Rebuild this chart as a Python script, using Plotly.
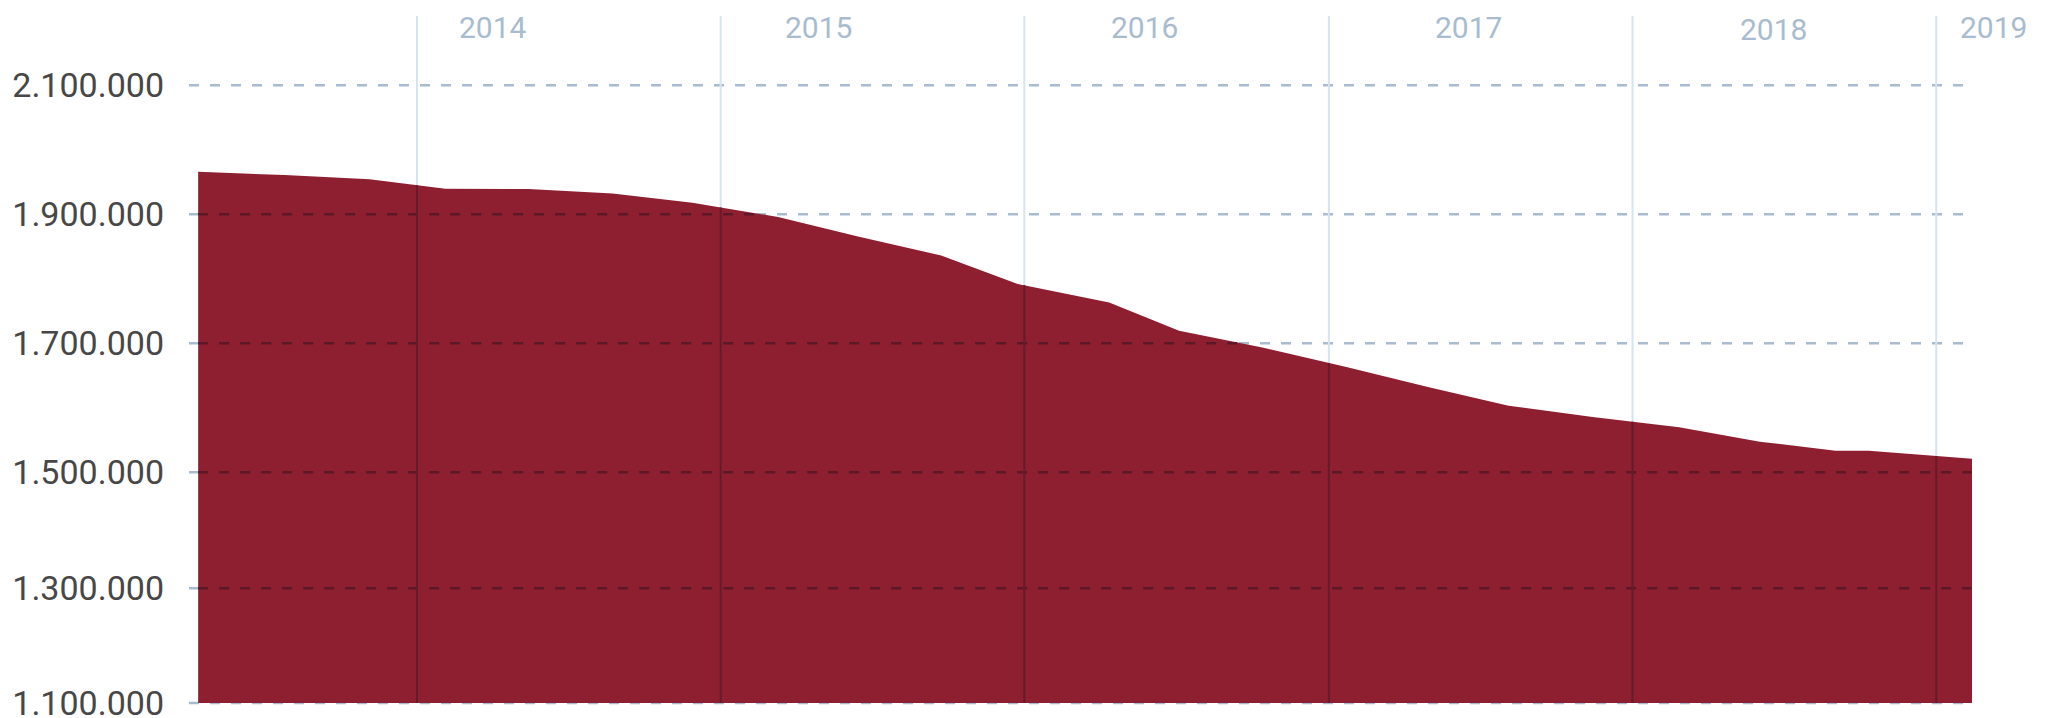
import numpy as np
import pandas as pd
import plotly.graph_objects as go

# ---- data ----
dates = ["2013-04-13", "2013-07-26", "2013-11-05", "2014-02-04", "2014-05-15",
         "2014-08-24", "2014-11-28", "2015-03-11", "2015-06-15", "2015-09-23",
         "2015-12-24", "2016-04-12", "2016-07-05", "2016-10-13", "2017-01-22",
         "2017-04-30", "2017-08-05", "2017-11-14", "2018-02-26", "2018-06-03",
         "2018-09-02", "2018-10-12", "2019-02-13"]
values = [1966000, 1960800, 1954300, 1939800, 1939200,
          1932400, 1918000, 1895800, 1865700, 1836100,
          1791900, 1763300, 1719500, 1693500, 1663300,
          1632200, 1603300, 1585900, 1569800, 1547400,
          1533500, 1533500, 1520900]

# y axis tick labels and where the reference draws them on its scale
y_tick_text = ["1.100.000", "1.300.000", "1.500.000", "1.700.000", "1.900.000", "2.100.000"]
y_tick_vals = [1142300, 1320150, 1500000, 1700000, 1900000, 2100000]

# year boundaries and year labels
year_lines = ["2014-01-01", "2015-01-01", "2016-01-01", "2017-01-01", "2018-01-01", "2019-01-01"]
year_labels = ["2014", "2015", "2016", "2017", "2018", "2019"]
year_label_at = ["2014-04-02", "2015-04-28", "2016-05-25", "2017-06-18", "2018-06-19", "2019-03-11"]

# ---- styles ----
FILL = "#8e1f31"
GRID_LIGHT = "#a9bccf"
GRID_DARK = "#5c1827"
VLINE_LIGHT = "#d4e4f0"
VLINE_DARK = "#661b2b"
DASH = "10px,11px"

x_range = ["2013-04-02", dates[-1]]
y_range = [1134560, 2207440]

t = pd.to_datetime(dates)
tn = np.array([ts.value for ts in t], dtype=float)
vals = np.array(values, dtype=float)
xr0, xr1 = pd.Timestamp(x_range[0]).value, pd.Timestamp(x_range[1]).value


def cross_time(v):
    if vals.min() >= v:
        return t[-1]
    for i in range(len(vals) - 1):
        if vals[i] >= v > vals[i + 1]:
            f = (vals[i] - v) / (vals[i] - vals[i + 1])
            return pd.Timestamp(int(tn[i] + f * (tn[i + 1] - tn[i])))
    return None


fig = go.Figure()

# light horizontal dashed grid lines
for v in y_tick_vals:
    fig.add_trace(go.Scatter(x=x_range, y=[v, v], mode="lines",
                             line=dict(color=GRID_LIGHT, width=2.5, dash=DASH),
                             hoverinfo="skip", showlegend=False))
# light vertical year lines
for d in year_lines:
    fig.add_trace(go.Scatter(x=[d, d], y=[y_tick_vals[0], y_range[1]], mode="lines",
                             line=dict(color=VLINE_LIGHT, width=2),
                             hoverinfo="skip", showlegend=False))

# area
fig.add_trace(go.Scatter(x=dates, y=[y_tick_vals[0]] * len(dates), mode="lines",
                         line=dict(width=0, color=FILL), hoverinfo="skip", showlegend=False))
fig.add_trace(go.Scatter(x=dates, y=values, mode="lines", fill="tonexty",
                         fillcolor=FILL, line=dict(width=0, color=FILL),
                         showlegend=False))

# dark parts of grid lines where they lie over the area
for v in y_tick_vals[1:]:
    ct = cross_time(v)
    if ct is None:
        continue
    fig.add_trace(go.Scatter(x=[t[0], ct], y=[v, v], mode="lines",
                             line=dict(color=GRID_DARK, width=2.5, dash=DASH),
                             hoverinfo="skip", showlegend=False))
for d in year_lines:
    dv = np.interp(pd.Timestamp(d).value, tn, vals)
    fig.add_trace(go.Scatter(x=[d, d], y=[y_tick_vals[0], dv], mode="lines",
                             line=dict(color=VLINE_DARK, width=2),
                             hoverinfo="skip", showlegend=False))

# year labels (placed along the x scale; paper refs so the last one may sit past the range)
for lab, at in zip(year_labels, year_label_at):
    px = (pd.Timestamp(at).value - xr0) / (xr1 - xr0)
    fig.add_annotation(x=px, xref="paper", y=0.9834, yref="paper", text=lab,
                       showarrow=False, xanchor="center", yanchor="middle",
                       yshift=-2.5 if lab == "2018" else 0,
                       font=dict(family="Roboto", size=30, color=GRID_LIGHT))

# page body has an 8px default margin, margins below compensate for it
fig.update_layout(
    width=2049, height=718,
    margin=dict(l=181, r=85, t=8, b=18),
    paper_bgcolor="white", plot_bgcolor="white",
    showlegend=False,
    font=dict(family="Roboto"),
)
fig.update_xaxes(type="date", range=x_range, showgrid=False, zeroline=False,
                 showticklabels=False, ticks="", showline=False, automargin=False)
fig.update_yaxes(range=y_range, showgrid=False, zeroline=False, showline=False,
                 tickvals=y_tick_vals, ticktext=y_tick_text, ticks="",
                 ticklabelstandoff=24, automargin=False,
                 tickfont=dict(family="Roboto", size=34, color="#474747"))

fig.write_html("out.html")
